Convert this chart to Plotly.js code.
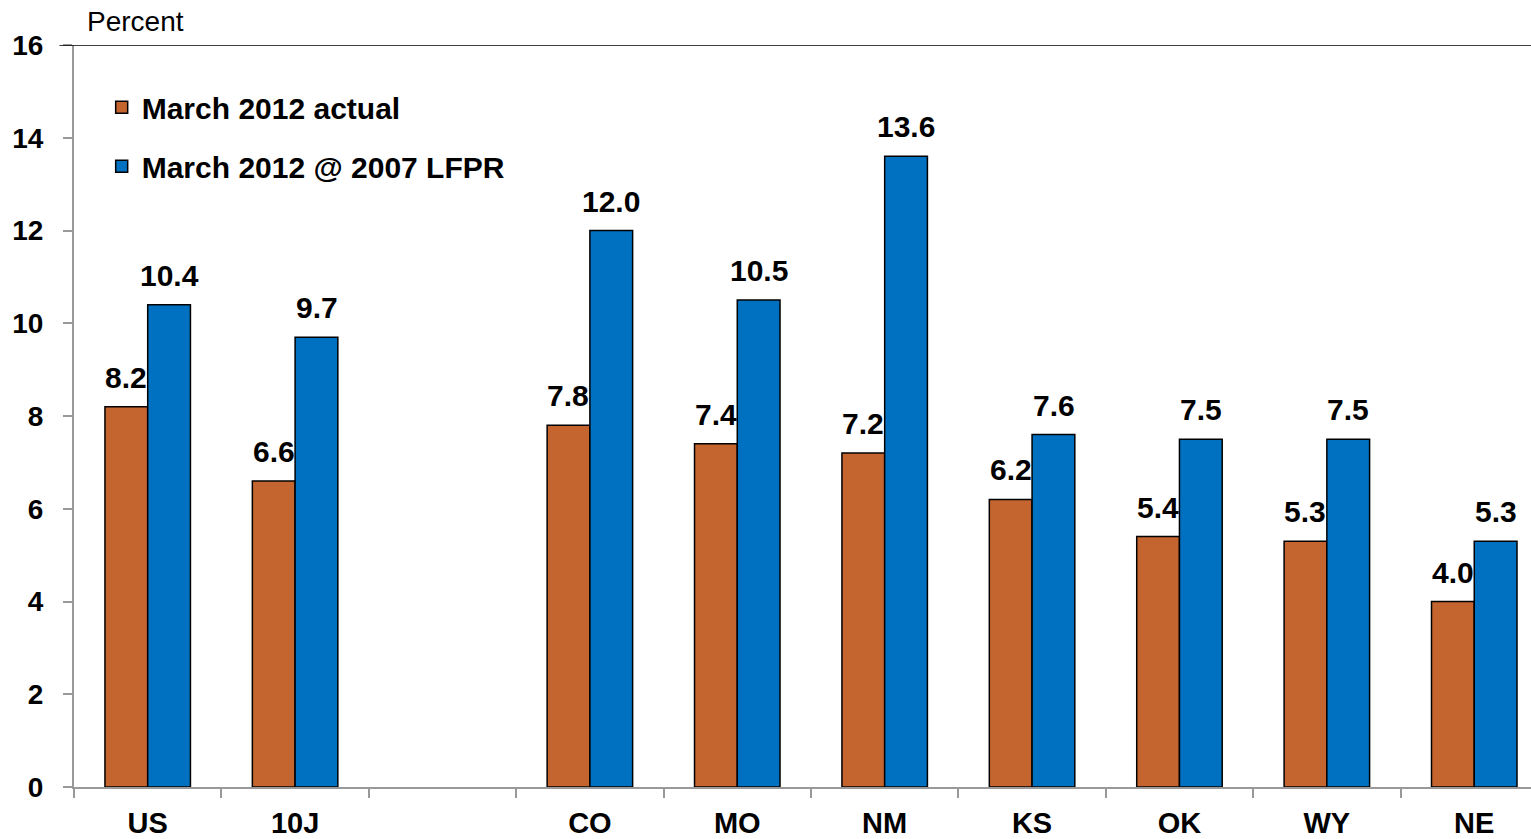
<!DOCTYPE html>
<html>
<head>
<meta charset="utf-8">
<script src="https://cdn.plot.ly/plotly-3.0.1.min.js"></script>
<style>html,body{margin:0;padding:0;background:#fff;}#chart{width:1531px;height:839px;}</style>
</head>
<body>
<div id="chart"></div>
<script>
var categories = ["US", "10J", " ", "CO", "MO", "NM", "KS", "OK", "WY", "NE"];
var actual = [8.2, 6.6, null, 7.8, 7.4, 7.2, 6.2, 5.4, 5.3, 4.0];
var atLFPR = [10.4, 9.7, null, 12.0, 10.5, 13.6, 7.6, 7.5, 7.5, 5.3];
var seriesNames = ["March 2012 actual", "March 2012 @ 2007 LFPR"];
var yTicks = [0, 2, 4, 6, 8, 10, 12, 14, 16];

var FONT = "Liberation Sans, Arial, sans-serif";
var orange = "#C4652F", blue = "#0070C0";

var traces = [
  {type: "bar", name: seriesNames[0], x: categories, y: actual, legendgroup: "a",
   marker: {color: orange, line: {color: "#000", width: 1.5}}, hoverinfo: "skip"},
  {type: "bar", name: seriesNames[1], x: categories, y: atLFPR, legendgroup: "b",
   marker: {color: blue, line: {color: "#000", width: 1.5}}, hoverinfo: "skip"}
];

var annotations = [];
function addLabels(vals, shift) {
  vals.forEach(function (v, i) {
    if (v === null) return;
    annotations.push({x: categories[i], y: v, xref: "x", yref: "y", text: v.toFixed(1),
      showarrow: false, xanchor: "center", yanchor: "bottom", xshift: shift, yshift: 11,
      font: {family: FONT, size: 30, color: "#000", weight: "bold"}});
  });
}
addLabels(actual, -21.5);
addLabels(atLFPR, 21.5);
annotations.push({xref: "paper", yref: "paper", x: 0.0075, y: 1, xanchor: "left", yanchor: "bottom",
  yshift: 6, text: "Percent", showarrow: false, font: {family: FONT, size: 28, color: "#000"}});

var layout = {
  width: 1531, height: 839,
  margin: {l: 74, r: 0, t: 45, b: 52},
  paper_bgcolor: "#fff", plot_bgcolor: "#fff",
  font: {family: FONT, color: "#000"},
  barmode: "group", bargap: 0.42, bargroupgap: 0,
  showlegend: true,
  legend: {x: 0.019, y: 0.951, xanchor: "left", yanchor: "top", bgcolor: "rgba(0,0,0,0)",
    traceorder: "grouped", tracegroupgap: 17,
    font: {family: FONT, size: 30, color: "#000", weight: "bold"}},
  xaxis: {type: "category", categoryorder: "array", categoryarray: categories,
    range: [-0.5, 9.385], showgrid: false, zeroline: false,
    showline: true, linecolor: "#999", linewidth: 2,
    ticks: "outside", tickson: "boundaries", ticklen: 9, tickcolor: "#999", tickwidth: 2,
    ticklabelstandoff: 9,
    tickfont: {family: FONT, size: 29, color: "#000", weight: "bold"}, fixedrange: true},
  yaxis: {range: [0, 16], tickvals: yTicks, showgrid: false, zeroline: false,
    showline: true, linecolor: "#999", linewidth: 2,
    ticks: "outside", ticklen: 9, tickcolor: "#999", tickwidth: 2,
    ticklabelstandoff: 14,
    tickfont: {family: FONT, size: 28, color: "#000", weight: "bold"}, fixedrange: true},
  shapes: [{type: "line", xref: "paper", yref: "y", x0: -0.01, x1: 1, y0: 16, y1: 16,
    line: {color: "#000", width: 1.5}}],
  annotations: annotations
};

Plotly.newPlot("chart", traces, layout, {displayModeBar: false, staticPlot: true});
</script>
</body>
</html>
